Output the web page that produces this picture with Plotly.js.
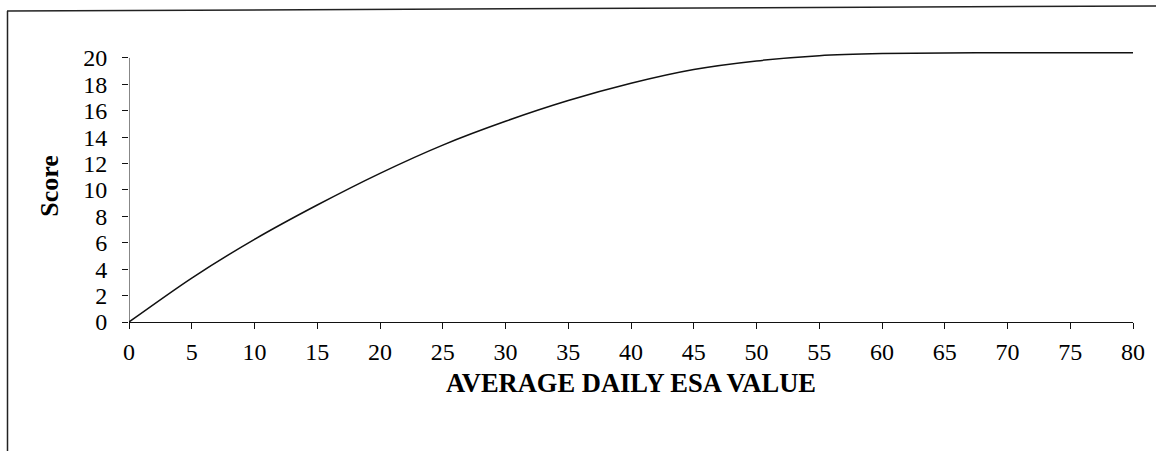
<!DOCTYPE html>
<html>
<head>
<meta charset="utf-8">
<script src="https://cdn.plot.ly/plotly-3.0.1.min.js"></script>
<style>html,body{margin:0;padding:0;background:#fff;}#chart{width:1156px;height:451px;}</style>
</head>
<body>
<div id="chart"></div>
<script>
// Data
const esaValues = [0, 5, 10, 15, 20, 25, 30, 35, 40, 45, 50, 55, 60, 65, 70, 75, 80];
const scores = [0, 3.33, 6.26, 8.86, 11.26, 13.4, 15.2, 16.77, 18.08, 19.12, 19.77, 20.17, 20.33, 20.38, 20.4, 20.4, 20.4];
const xTicks = [0, 5, 10, 15, 20, 25, 30, 35, 40, 45, 50, 55, 60, 65, 70, 75, 80];
const yTicks = [0, 2, 4, 6, 8, 10, 12, 14, 16, 18, 20];
const xTitle = "AVERAGE DAILY ESA VALUE";
const yTitle = "Score";

const font = "Liberation Serif, Times New Roman, serif";

const trace = {
  x: esaValues,
  y: scores,
  type: "scatter",
  mode: "lines",
  line: {color: "#111", width: 1.5, shape: "spline", smoothing: 0.8},
  hoverinfo: "skip"
};

// plot area: x 129..1133, y (0 at 322px) .. (20.6 at 50px)
const L = 129, R = 1133, B = 322, T = 50;
const px = v => (v - L) / (R - L);
const py = v => (B - v) / (B - T);

const layout = {
  width: 1156,
  height: 451,
  margin: {l: L, r: 1156 - R, t: T, b: 451 - B},
  paper_bgcolor: "#fff",
  plot_bgcolor: "#fff",
  showlegend: false,
  font: {family: font, color: "#000", size: 24},
  xaxis: {
    range: [0, 80],
    tickvals: xTicks,
    ticktext: xTicks.map(String),
    showgrid: false,
    zeroline: false,
    showline: true,
    linecolor: "#111",
    linewidth: 1,
    ticks: "outside",
    ticklen: 6,
    tickcolor: "#111",
    ticklabelstandoff: 2,
    tickfont: {family: font, size: 24, color: "#000"},
    title: {text: "<b>" + xTitle + "</b>", font: {family: font, size: 26.5, color: "#000"}, standoff: 9},
    fixedrange: true
  },
  yaxis: {
    range: [0, 20.6],
    tickvals: yTicks,
    ticktext: yTicks.map(String),
    showgrid: false,
    zeroline: false,
    showline: false,
    ticks: "outside",
    ticklen: 6,
    tickcolor: "#111",
    ticklabelstandoff: 10,
    tickfont: {family: font, size: 24, color: "#000"},
    title: {text: "<b>" + yTitle + "</b>", font: {family: font, size: 26, color: "#000"}, standoff: 17},
    fixedrange: true
  },
  shapes: [
    // y axis line, from 0 to 20 only
    {type: "line", xref: "x", yref: "y", x0: 0, y0: 0, x1: 0, y1: 20, line: {color: "#111", width: 1}},
    // scanned frame: top and left edges
    {type: "line", xref: "paper", yref: "paper", x0: px(7), y0: py(11), x1: px(1156), y1: py(6), line: {color: "#222", width: 1.5}},
    {type: "line", xref: "paper", yref: "paper", x0: px(7.5), y0: py(11), x1: px(7.5), y1: py(451), line: {color: "#222", width: 1.5}}
  ]
};

Plotly.newPlot("chart", [trace], layout, {staticPlot: true, displayModeBar: false});
</script>
</body>
</html>
